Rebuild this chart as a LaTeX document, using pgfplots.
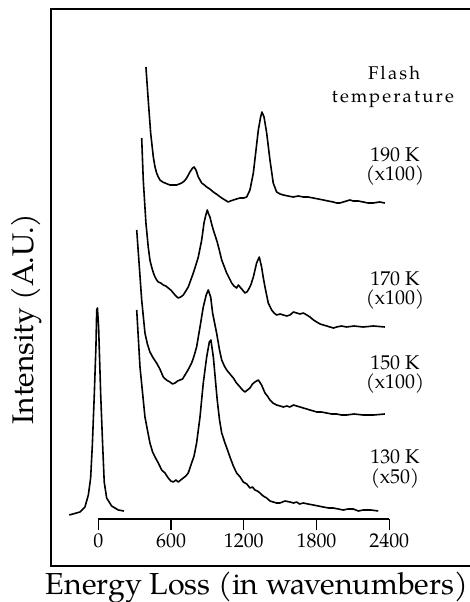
\documentclass[border=0pt]{standalone}
\usepackage{fontspec}
\setmainfont{TeX Gyre Pagella}
\usepackage{pgfplots}
\pgfplotsset{compat=1.18}
\begin{document}
\begin{tikzpicture}
\begin{axis}[scale only axis, width=419bp, height=557bp,
  xmin=-390, xmax=3066, ymin=0, ymax=557, hide axis, clip=false]
% elastic peak
\addplot[line width=1.6bp, black, line join=round] coordinates {
(-239,51) (-151,54) (-110,59) (-82,71) (-63,88) (-49,121) (-33,171) (-19,221)
(-13,256) (-7,258) (3,238) (20,171) (36,121) (49,84) (69,68) (110,60) (165,56) (212,55)};
% 130 K
\addplot[line width=1.6bp, black, line join=round] coordinates {
(317,256) (344,199) (385,149) (426,123) (448,114) (468,109) (495,103) (523,96) (550,93) (577,88) (598,85) (619,84)
(640,86) (660,84) (680,86) (701,88) (722,90) (742,93) (770,103) (790,110) (811,123) (839,149) (866,183) (894,209)
(916,224) (929,226) (949,209) (981,166) (1000,146) (1018,133) (1045,123) (1066,116) (1086,109)
(1114,100) (1141,93) (1170,89) (1196,84) (1225,82) (1251,78) (1272,79) (1292,76) (1312,75) (1334,73) (1360,70) (1389,68) (1416,65) (1443,64) (1470,63) (1498,63)
(1540,65) (1581,64) (1610,63) (1636,64) (1660,62) (1691,63) (1730,62) (1773,61) (1815,60) (1856,59) (1900,58) (1938,58) (1980,57) (2021,56) (2060,57) (2103,57)
(2145,55) (2185,56) (2250,56) (2309,55)};
% 150 K
\addplot[line width=1.6bp, black, line join=round] coordinates {
(317,336) (358,266) (385,233) (405,222) (426,214) (453,208) (481,203) (508,197) (536,189) (562,186) (591,184) (612,182) (633,183)
(654,185) (674,186) (695,187) (715,191) (740,196) (770,203) (790,210) (811,219) (839,239) (866,259) (890,271) (907,276) (927,269)
(943,253) (976,233) (1000,216) (1018,206) (1040,200) (1059,196) (1086,192) (1114,188) (1140,183) (1169,179) (1190,176) (1210,174)
(1230,176) (1251,178) (1272,182) (1292,184) (1320,186) (1347,181) (1375,173) (1395,170) (1416,166) (1440,163) (1471,161)
(1500,160) (1526,159) (1555,160) (1581,159) (1610,161) (1636,160) (1665,159) (1691,158) (1720,157) (1746,156) (1775,155) (1801,154) (1840,154) (1883,153)
(1925,152) (1966,152) (2005,151) (2048,151) (2110,152) (2185,151) (2270,151) (2364,152)};
% 170 K
\addplot[line width=1.6bp, black, line join=round] coordinates {
(358,428) (371,386) (393,343) (412,319) (426,306) (440,299) (455,293) (468,289) (482,286) (495,284) (515,283) (536,281)
(557,280) (577,278) (598,276) (619,273) (640,270) (660,268) (680,269) (701,271) (722,275) (742,279) (763,286) (784,293) (805,301) (825,309) (853,326)
(872,343) (885,350) (899,356) (910,352) (921,349) (935,342) (949,336) (965,330) (981,324) (1000,315) (1018,306) (1040,299) (1059,293)
(1080,288) (1100,283) (1120,280) (1141,278) (1155,281) (1169,279) (1190,276) (1210,273) (1225,274) (1237,276) (1258,281) (1279,289) (1306,303)
(1328,309) (1347,299) (1360,289) (1375,279) (1402,263) (1430,256) (1450,253) (1471,251) (1500,252) (1526,251) (1555,250)
(1581,251) (1610,254) (1636,253) (1665,252) (1691,253) (1720,251) (1746,249) (1775,246) (1801,244) (1830,242) (1856,241) (1885,240) (1911,239)
(1940,238) (1966,239) (2005,240) (2048,239) (2110,240) (2185,239) (2270,240) (2364,239)};
% 190 K
\addplot[line width=1.6bp, black, line join=round] coordinates {
(393,499) (412,466) (432,433) (454,409) (468,399) (481,393) (495,389) (509,386) (530,384) (550,383) (570,382) (591,381)
(620,381) (646,381) (668,382) (688,383) (710,385) (729,388) (756,394) (778,398) (790,399) (806,396) (825,389) (853,383)
(875,381) (894,379) (920,377) (949,374) (985,371) (1018,368) (1045,366) (1072,364) (1090,365) (1114,366) (1140,367) (1169,368) (1200,368) (1224,369)
(1251,376) (1279,393) (1301,416) (1320,436) (1339,449) (1350,454) (1367,449)
(1389,433) (1416,406) (1443,383) (1471,374) (1500,372) (1526,371) (1565,370) (1608,369) (1650,370) (1691,369)
(1730,369) (1773,368) (1815,367) (1856,366) (1895,365) (1938,364) (1965,363) (1993,363) (2020,364) (2048,365) (2075,366) (2103,365) (2145,365) (2185,364)
(2225,363) (2268,363) (2320,364) (2364,363)};
\draw[line width=1.6bp] (rel axis cs:1,1) -- (rel axis cs:0,1) -- (rel axis cs:0,0) -- (rel axis cs:1,0);
\coordinate (ia) at (axis cs:0,47);
\coordinate (fsw) at (rel axis cs:0,0);
\node[anchor=base, inner sep=0pt, font=\fontsize{18.5}{20}\selectfont\addfontfeature{LetterSpace=12}] at (axis cs:2440,486) {Flash};
\node[anchor=base, inner sep=0pt, font=\fontsize{18.5}{20}\selectfont\addfontfeature{LetterSpace=12}] at (axis cs:2430,463) {temperature};
\node[anchor=base, inner sep=0pt, font=\fontsize{20}{24}\selectfont] at (axis cs:2447,404) {190 K};
\node[anchor=base, inner sep=0pt, font=\fontsize{20}{24}\selectfont] at (axis cs:2447,385) {(x100)};
\node[anchor=base, inner sep=0pt, font=\fontsize{20}{24}\selectfont] at (axis cs:2447,280) {170 K};
\node[anchor=base, inner sep=0pt, font=\fontsize{20}{24}\selectfont] at (axis cs:2447,261) {(x100)};
\node[anchor=base, inner sep=0pt, font=\fontsize{20}{24}\selectfont] at (axis cs:2447,196) {150 K};
\node[anchor=base, inner sep=0pt, font=\fontsize{20}{24}\selectfont] at (axis cs:2447,177) {(x100)};
\node[anchor=base, inner sep=0pt, font=\fontsize{20}{24}\selectfont] at (axis cs:2447,102) {130 K};
\node[anchor=base, inner sep=0pt, font=\fontsize{20}{24}\selectfont] at (axis cs:2447,83) {(x50)};
\node[rotate=90, font=\fontsize{30}{32}\selectfont] at (axis cs:-588,247) {Intensity (A.U.)};
\node[anchor=base, inner sep=0pt, font=\fontsize{30.5}{32}\selectfont] at (axis cs:1309,-28) {Energy Loss (in wavenumbers)};
\end{axis}
\begin{axis}[at={(ia)}, anchor=south west, scale only axis, width=291bp, height=10bp,
  xmin=0, xmax=2400, ymin=0, ymax=1, axis x line=bottom, axis y line=none,
  axis line style={-, line width=1.3bp, black},
  xtick={0,600,1200,1800,2400}, tick align=outside, major tick length=11bp,
  tick style={line width=1.3bp, black},
  ticklabel style={font=\fontsize{20}{24}\selectfont},
  /pgf/number format/assume math mode=true, /pgf/number format/1000 sep={}]
\end{axis}
\pgfresetboundingbox
\path (fsw) ++(-51bp,-36bp) rectangle ++(470bp,602bp);
\end{tikzpicture}
\end{document}
